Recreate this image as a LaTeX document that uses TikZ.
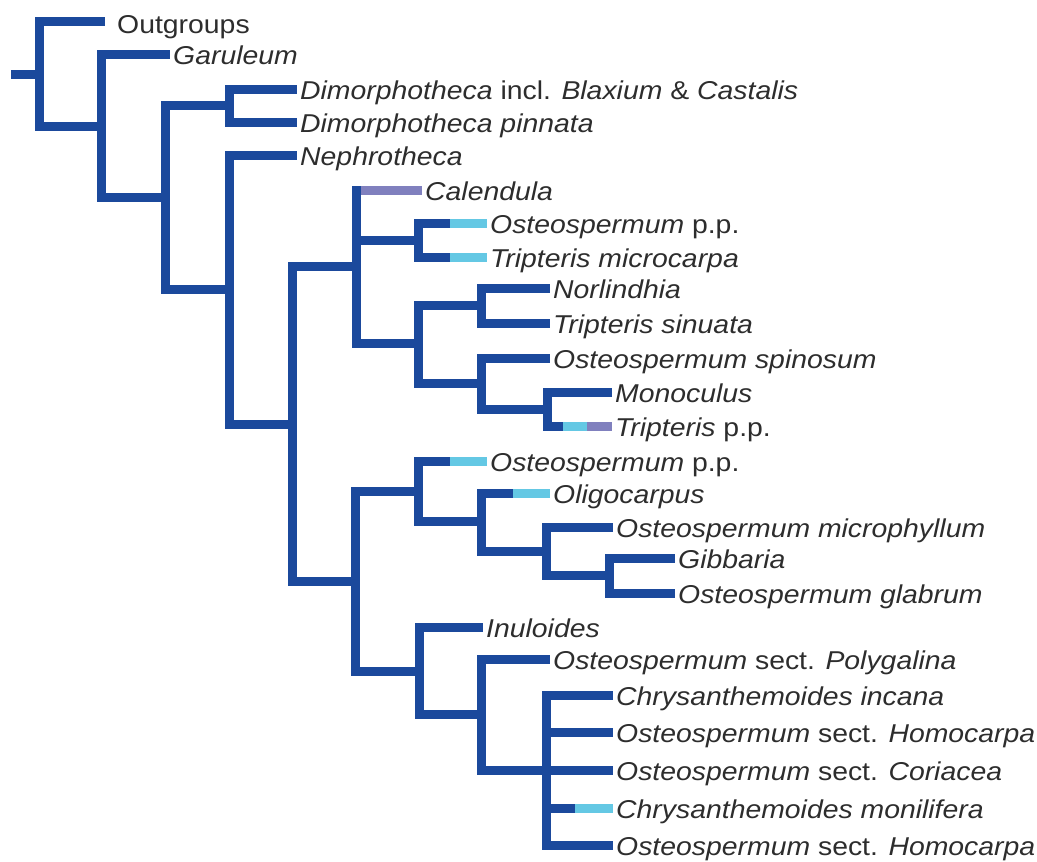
\documentclass[tikz,border=0pt]{standalone}
\usepackage{fontspec}
\setmainfont{Liberation Sans}
\definecolor{dkblue}{RGB}{27,73,156}
\definecolor{ltblue}{RGB}{100,200,228}
\definecolor{lav}{RGB}{128,128,190}
\definecolor{txt}{RGB}{45,45,45}
\newcommand\lbl[1]{\scalebox{1.1}[1]{#1}}
\begin{document}
\begin{tikzpicture}[x=1pt,y=-1pt,
  branch/.style={line width=9pt, draw=dkblue, line join=miter},
  lseg/.style={line width=9pt, draw=ltblue},
  pseg/.style={line width=9pt, draw=lav},
  taxon/.style={anchor=base west, inner sep=0pt, text=txt,
    font=\fontsize{25.8}{30}\selectfont, yshift=-10pt, xshift=3pt}]
\useasboundingbox (0,0) rectangle (1037,862);
% tips
\coordinate (t1) at (105,21);
\coordinate (t2) at (170,54);
\coordinate (t3) at (297,89);
\coordinate (t4) at (297,122);
\coordinate (t5) at (297,155);
\coordinate (t6) at (422,190);
\coordinate (t7) at (487,223);
\coordinate (t8) at (487,257);
\coordinate (t9) at (550,288);
\coordinate (t10) at (550,323);
\coordinate (t11) at (550,358);
\coordinate (t12) at (612,392);
\coordinate (t13) at (612,426);
\coordinate (t14) at (487,461);
\coordinate (t15) at (550,493);
\coordinate (t16) at (613,527);
\coordinate (t17) at (675,558);
\coordinate (t18) at (675,593);
\coordinate (t19) at (483,627);
\coordinate (t20) at (550,659);
\coordinate (t21) at (613,695);
\coordinate (t22) at (613,732);
\coordinate (t23) at (613,770);
\coordinate (t24) at (613,808);
\coordinate (t25) at (613,845);
% internal nodes
\coordinate (r0) at (11,74);
\coordinate (nroot) at (39,74);
\coordinate (na) at (101,126);
\coordinate (nb) at (165,197.5);
\coordinate (ndim) at (229,105.5);
\coordinate (nc) at (229,289.5);
\coordinate (nd) at (292,424);
\coordinate (ne) at (356,266.5);
\coordinate (nf) at (418,240);
\coordinate (ng) at (418,343);
\coordinate (nh) at (481,305.5);
\coordinate (ni) at (481,383.5);
\coordinate (nj) at (547,409);
\coordinate (nk) at (355,581);
\coordinate (nl) at (418,491.5);
\coordinate (nm) at (481,521.5);
\coordinate (nn) at (546,551);
\coordinate (no) at (609,575.5);
\coordinate (np) at (419,671);
\coordinate (nq) at (481,714.5);
\coordinate (nr) at (546,770);
% branches
\draw[branch] (r0) -- (nroot);
\draw[branch] (nroot) |- (t1);
\draw[branch] (nroot) |- (na);
\draw[branch] (na) |- (t2);
\draw[branch] (na) |- (nb);
\draw[branch] (nb) |- (ndim);
\draw[branch] (nb) |- (nc);
\draw[branch] (ndim) |- (t3);
\draw[branch] (ndim) |- (t4);
\draw[branch] (nc) |- (t5);
\draw[branch] (nc) |- (nd);
\draw[branch] (nd) |- (ne);
\draw[branch] (nd) |- (nk);
\draw[branch] (ne) |- (t6);
\draw[branch] (ne) |- (nf);
\draw[branch] (ne) |- (ng);
\draw[branch] (nf) |- (t7);
\draw[branch] (nf) |- (t8);
\draw[branch] (ng) |- (nh);
\draw[branch] (ng) |- (ni);
\draw[branch] (nh) |- (t9);
\draw[branch] (nh) |- (t10);
\draw[branch] (ni) |- (t11);
\draw[branch] (ni) |- (nj);
\draw[branch] (nj) |- (t12);
\draw[branch] (nj) |- (t13);
\draw[branch] (nk) |- (nl);
\draw[branch] (nk) |- (np);
\draw[branch] (nl) |- (t14);
\draw[branch] (nl) |- (nm);
\draw[branch] (nm) |- (t15);
\draw[branch] (nm) |- (nn);
\draw[branch] (nn) |- (t16);
\draw[branch] (nn) |- (no);
\draw[branch] (no) |- (t17);
\draw[branch] (no) |- (t18);
\draw[branch] (np) |- (t19);
\draw[branch] (np) |- (nq);
\draw[branch] (nq) |- (t20);
\draw[branch] (nq) |- (nr);
\draw[branch] (nr) |- (t21);
\draw[branch] (nr) |- (t22);
\draw[branch] (nr) -- (t23);
\draw[branch] (nr) |- (t24);
\draw[branch] (nr) |- (t25);
% coloured segments
\coordinate (s6) at (360.5,190);
\coordinate (s7) at (450,223);
\coordinate (s8) at (450,257);
\coordinate (s13a) at (563,426);
\coordinate (s13b) at (587,426);
\coordinate (s14) at (450,461);
\coordinate (s15) at (513,493);
\coordinate (s24) at (575,808);
\draw[pseg] (s6) -- (t6);
\draw[lseg] (s7) -- (t7);
\draw[lseg] (s8) -- (t8);
\draw[lseg] (s13a) -- (s13b);
\draw[pseg] (s13b) -- (t13);
\draw[lseg] (s14) -- (t14);
\draw[lseg] (s15) -- (t15);
\draw[lseg] (s24) -- (t24);
% labels
\node[taxon, xshift=9pt, yshift=-2pt] (l1) at (t1) {\lbl{Outgroups}};
\node[taxon] (l2) at (t2) {\lbl{\textit{Garuleum}}};
\node[taxon] (l3) at (t3) {\lbl{\textit{Dimorphotheca} incl. \textit{Blaxium} \& \textit{Castalis}}};
\node[taxon] (l4) at (t4) {\lbl{\textit{Dimorphotheca pinnata}}};
\node[taxon] (l5) at (t5) {\lbl{\textit{Nephrotheca}}};
\node[taxon] (l6) at (t6) {\lbl{\textit{Calendula}}};
\node[taxon] (l7) at (t7) {\lbl{\textit{Osteospermum} p.p.}};
\node[taxon] (l8) at (t8) {\lbl{\textit{Tripteris microcarpa}}};
\node[taxon] (l9) at (t9) {\lbl{\textit{Norlindhia}}};
\node[taxon] (l10) at (t10) {\lbl{\textit{Tripteris sinuata}}};
\node[taxon] (l11) at (t11) {\lbl{\textit{Osteospermum spinosum}}};
\node[taxon] (l12) at (t12) {\lbl{\textit{Monoculus}}};
\node[taxon] (l13) at (t13) {\lbl{\textit{Tripteris} p.p.}};
\node[taxon] (l14) at (t14) {\lbl{\textit{Osteospermum} p.p.}};
\node[taxon] (l15) at (t15) {\lbl{\textit{Oligocarpus}}};
\node[taxon] (l16) at (t16) {\lbl{\textit{Osteospermum microphyllum}}};
\node[taxon] (l17) at (t17) {\lbl{\textit{Gibbaria}}};
\node[taxon] (l18) at (t18) {\lbl{\textit{Osteospermum glabrum}}};
\node[taxon] (l19) at (t19) {\lbl{\textit{Inuloides}}};
\node[taxon] (l20) at (t20) {\lbl{\textit{Osteospermum} sect. \textit{Polygalina}}};
\node[taxon] (l21) at (t21) {\lbl{\textit{Chrysanthemoides incana}}};
\node[taxon] (l22) at (t22) {\lbl{\textit{Osteospermum} sect. \textit{Homocarpa}}};
\node[taxon] (l23) at (t23) {\lbl{\textit{Osteospermum} sect. \textit{Coriacea}}};
\node[taxon] (l24) at (t24) {\lbl{\textit{Chrysanthemoides monilifera}}};
\node[taxon] (l25) at (t25) {\lbl{\textit{Osteospermum} sect. \textit{Homocarpa}}};
\end{tikzpicture}
\end{document}
